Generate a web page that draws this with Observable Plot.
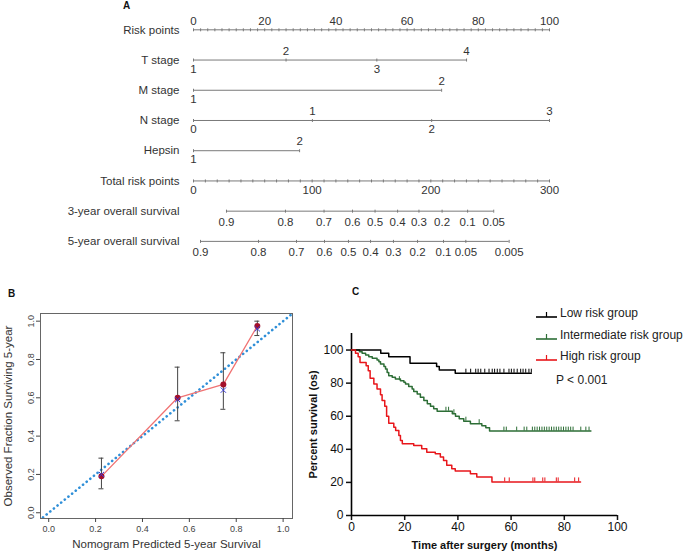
<!DOCTYPE html>
<html><head><meta charset="utf-8">
<script src="https://cdn.jsdelivr.net/npm/d3@7"></script>
<script src="https://cdn.jsdelivr.net/npm/@observablehq/plot@0.6"></script>
<style>
body{margin:0;background:#fff;font-family:"Liberation Sans",Arial,sans-serif;}
#root{position:relative;width:685px;height:560px;overflow:hidden;background:#fff;}
#root svg{position:absolute;overflow:visible;}
.plab{position:absolute;font-weight:bold;font-size:10px;color:#111;}
.leg{position:absolute;font-size:12px;color:#222;white-space:nowrap;line-height:14px;}
.leg svg{position:static !important;vertical-align:middle;margin-right:3px;}
</style></head><body><div id="root"></div>
<script>
// ---------- Panel A: nomogram ----------
const nomoRows = ["Risk points","T stage","M stage","N stage","Hepsin","Total risk points","3-year overall survival","5-year overall survival"];
const pointTickValues = d3.range(0, 101, 2);
const pointLabelValues = [0, 20, 40, 60, 80, 100];
const tStageLabels = ["1","2","3","4"];
const tStagePoints = [0, 26, 51.5, 76.7];
const mStageLabels = ["1","2"];
const mStagePoints = [0, 69.7];
const nStageLabels = ["0","1","2","3"];
const nStagePoints = [0, 33.4, 66.9, 100];
const hepsinLabels = ["1","2"];
const hepsinPoints = [0, 29.8];
const totalTickValues = d3.range(0, 301, 10);
const totalLabelValues = [0, 100, 200, 300];
const surv3Labels = ["0.9","0.8","0.7","0.6","0.5","0.4","0.3","0.2","0.1","0.05"];
const surv3Total = [27.8, 77.5, 110, 134, 153, 172, 190, 209.5, 231, 253];
const surv5Labels = ["0.9","0.8","0.7","0.6","0.5","0.4","0.3","0.2","0.1","0.05","0.005"];
const surv5Total = [5.9, 54.8, 86.8, 110.4, 130.6, 149.2, 168.5, 188.8, 210.7, 229.5, 266];

// ---------- Panel B: calibration ----------
const calPred  = [0.225, 0.55, 0.745, 0.89];
const calObs   = [0.19, 0.60, 0.67, 0.975];
const calLo    = [0.125, 0.48, 0.54, 0.925];
const calHi    = [0.285, 0.76, 0.835, 1.0];
const calIdeal = [0.20, 0.59, 0.64, 0.96];
const calTicks = [0, 0.2, 0.4, 0.6, 0.8, 1.0];
const diagEnds = [-0.04, 1.05];

// ---------- Panel C: Kaplan-Meier ----------
const kmGroups = ["Low risk group", "Intermediate risk group", "High risk group"];
const kmColors = ["#000000", "#2d6e36", "#e8161b"];
const lowT = [0, 11, 14, 22, 32, 33, 39, 67.6];
const lowS = [100, 98, 96, 92, 90, 88, 86, 86];
const lowCensor = [43, 44.8, 46.7, 47.6, 48.6, 50.1, 51.7, 52.9, 53.8, 54.8, 55.8, 57.3, 59.2, 60.1, 61.1, 62.3, 63.6, 64.5, 65.5, 66.7, 67.6];
const intT = [0, 3, 4, 5.3, 6.5, 7.8, 9.6, 10.3, 10.9, 12.2, 12.8, 13.4, 14, 15.3, 16.5, 18.4, 19.7, 20.3, 21.5, 22.8, 23.4, 24.7, 25.9, 27.2, 28.5, 29.7, 30.9, 32.2, 37.9, 39.1, 40.5, 42.2, 44.7, 49, 50.5, 51.9, 90];
const intS = [100, 99, 98, 97, 96, 95, 94, 93, 91.5, 90, 88.5, 86.5, 84.5, 83.5, 82.5, 81.5, 80.5, 79.5, 78, 76.5, 75, 73.5, 71.5, 69.5, 67.5, 66, 64.5, 63, 61.5, 60, 58.5, 57, 55.5, 54.3, 53, 51, 51];
const intCensorT = [18, 35.5, 36.5, 38.5, 43, 48, 57.3, 58.2, 62.1, 64.9, 65.9, 68, 68.9, 69.8, 70.7, 71.6, 72.5, 73.4, 74.3, 75.2, 76.1, 77, 77.9, 78.8, 79.7, 80.6, 81.5, 82.4, 83.3, 86.2, 88.1, 89.3];
const intCensorS = [81.5, 63, 63, 61.5, 57, 55.5, 51, 51, 51, 51, 51, 51, 51, 51, 51, 51, 51, 51, 51, 51, 51, 51, 51, 51, 51, 51, 51, 51, 51, 51, 51, 51];
const highT = [0, 1.5, 2.5, 3.2, 5.5, 6.3, 7, 8.4, 9.6, 10.9, 11.5, 12.5, 13.2, 14, 15.9, 16.6, 17.8, 18.4, 19.1, 23.4, 26.4, 28.3, 31.5, 33.4, 34.6, 35.8, 37.7, 39, 44.7, 47.1, 52.8, 86.1];
const highS = [100, 98, 96, 92.5, 90.5, 87.5, 83, 79.5, 76.5, 73, 69.5, 66, 60, 55.8, 53.4, 51.4, 48.4, 45.4, 43.4, 42.3, 40.4, 38.3, 37.3, 35.3, 33.3, 30.3, 28.3, 26.9, 25.3, 23.3, 20.3, 20.3];
const highCensor = [57.6, 59.3, 68.2, 68.9, 71.9, 72.7, 77, 77.7, 83.9, 85.4];

const FONT = '"Liberation Sans", Arial, sans-serif';
const root = document.getElementById("root");

// ---- build nomogram tables ----
const nLines = [], nTicks = [], nAbove = [], nBelow = [], nUnder = [];
function rowI(r){ return nomoRows.indexOf(r); }
function addLine(row, xs){ nLines.push({i: rowI(row), x1: d3.min(xs), x2: d3.max(xs)}); }
addLine("Risk points", pointTickValues);
pointTickValues.forEach(x => nTicks.push({i: rowI("Risk points"), x}));
pointLabelValues.forEach(x => nAbove.push({i: rowI("Risk points"), x, t: String(x)}));
[["T stage", tStagePoints, tStageLabels], ["M stage", mStagePoints, mStageLabels],
 ["N stage", nStagePoints, nStageLabels], ["Hepsin", hepsinPoints, hepsinLabels]].forEach(([row, xs, labs]) => {
  addLine(row, xs);
  xs.forEach((x, k) => {
    nTicks.push({i: rowI(row), x});
    (k % 2 === 0 ? nBelow : nAbove).push({i: rowI(row), x, t: labs[k]});
  });
});
addLine("Total risk points", totalTickValues.map(v => v / 3));
totalTickValues.forEach(v => nTicks.push({i: rowI("Total risk points"), x: v / 3}));
totalLabelValues.forEach(v => nBelow.push({i: rowI("Total risk points"), x: v / 3, t: String(v)}));
[["3-year overall survival", surv3Total, surv3Labels], ["5-year overall survival", surv5Total, surv5Labels]].forEach(([row, tot, labs]) => {
  addLine(row, tot.map(v => v / 3));
  tot.forEach((v, k) => {
    nTicks.push({i: rowI(row), x: v / 3});
    nUnder.push({i: rowI(row), x: v / 3, t: labs[k]});
  });
});

const plotA = Plot.plot({
  width: 685, height: 262, marginTop: 0, marginBottom: 0, marginLeft: 193, marginRight: 136,
  x: {domain: [0, 100], axis: null},
  y: {domain: [-0.5, 7.5], range: [14.2, 256], axis: null},
  style: {fontFamily: FONT, fontSize: "11px", background: "transparent", color: "#333"},
  marks: [
    Plot.ruleY(nLines, {y: "i", x1: "x1", x2: "x2", stroke: "#7a7a7a", strokeWidth: 1}),
    Plot.ruleX(nTicks, {x: "x", y1: "i", y2: "i", insetTop: -1, insetBottom: -2, stroke: "#7a7a7a", strokeWidth: 1}),
    Plot.text(nAbove, {x: "x", y: "i", text: "t", dy: -9, fontSize: 11.5, fill: "#333"}),
    Plot.text(nBelow, {x: "x", y: "i", text: "t", dy: 9, fontSize: 11.5, fill: "#333"}),
    Plot.text(nUnder, {x: "x", y: "i", text: "t", dy: 11, fontSize: 11.5, fill: "#333"}),
    Plot.text(nomoRows, {x: 0, y: (d, i) => i, text: d => d, textAnchor: "end", dx: -14, fontSize: 11.5, fill: "#333"})
  ]
});
plotA.style.left = "0px"; plotA.style.top = "0px";
root.appendChild(plotA);

// ---- Panel B ----
const cal = calPred.map((p, k) => ({pred: p, obs: calObs[k], lo: calLo[k], hi: calHi[k], ideal: calIdeal[k]}));
const plotB = Plot.plot({
  width: 300, height: 280, marginLeft: 40, marginRight: 8, marginTop: 33, marginBottom: 42,
  x: {domain: [-0.035, 1.04]},
  y: {domain: [-0.03, 1.04]},
  style: {fontFamily: FONT, fontSize: "9px", background: "transparent", color: "#333"},
  marks: [
    Plot.frame({stroke: "#666", strokeWidth: 1}),
    Plot.axisX({ticks: calTicks, tickFormat: d3.format(".1f"), tickSize: 4, tickPadding: 3, fontSize: 9, label: null, color: "#444"}),
    Plot.axisY({ticks: calTicks, tickFormat: d3.format(".1f"), tickSize: 4, tickPadding: 3, tickRotate: -90, fontSize: 9, label: null, color: "#444"}),
    Plot.line(diagEnds, {x: d => d, y: d => d, stroke: "#2f8fd8", strokeWidth: 2.6, strokeDasharray: "0.1 4.6", strokeLinecap: "round", clip: true}),
    Plot.line(cal, {x: "pred", y: "obs", stroke: "#f07272", strokeWidth: 1.3}),
    Plot.ruleX(cal, {x: "pred", y1: "lo", y2: "hi", stroke: "#444", strokeWidth: 1}),
    Plot.ruleY(cal, {y: "lo", x1: "pred", x2: "pred", insetLeft: -2.5, insetRight: -2.5, stroke: "#444"}),
    Plot.ruleY(cal, {y: "hi", x1: "pred", x2: "pred", insetLeft: -2.5, insetRight: -2.5, stroke: "#444"}),
    Plot.dot(cal, {x: "pred", y: "obs", r: 3, fill: "#a3102b"}),
    Plot.dot(cal, {x: "pred", y: "ideal", symbol: "times", r: 2.5, stroke: "#3b3bd6", strokeWidth: 1}),
    Plot.text(["Nomogram Predicted 5-year Survival"], {frameAnchor: "bottom", dy: 29, fontSize: 11.5, fill: "#333"}),
    Plot.text(["Observed Fraction Surviving 5-year"], {frameAnchor: "left", dx: -32, rotate: -90, textAnchor: "middle", fontSize: 11.5, fill: "#333"})
  ]
});
plotB.style.left = "0px"; plotB.style.top = "280px";
root.appendChild(plotB);

// ---- Panel C ----
const km = [];
const censor = [];
[[lowT, lowS], [intT, intS], [highT, highS]].forEach(([T, S], g) => {
  T.forEach((t, k) => km.push({group: kmGroups[g], t, s: S[k]}));
});
lowCensor.forEach(t => censor.push({group: kmGroups[0], t, s: 86}));
intCensorT.forEach((t, k) => censor.push({group: kmGroups[1], t, s: intCensorS[k]}));
highCensor.forEach(t => censor.push({group: kmGroups[2], t, s: 20.3}));
const drawOrder = [kmGroups[1], kmGroups[0], kmGroups[2]];
km.sort((a, b) => drawOrder.indexOf(a.group) - drawOrder.indexOf(b.group));

const plotC = Plot.plot({
  width: 385, height: 280, marginLeft: 51, marginRight: 68, marginTop: 53, marginBottom: 45,
  x: {domain: [0, 100]},
  y: {domain: [0, 110]},
  color: {domain: kmGroups, range: kmColors},
  style: {fontFamily: FONT, fontSize: "12px", background: "transparent", color: "#111"},
  marks: [
    Plot.axisX({ticks: [0, 20, 40, 60, 80, 100], tickSize: 5, tickPadding: 2, fontSize: 12, label: null, strokeWidth: 1.5, color: "#111"}),
    Plot.axisY({ticks: [0, 20, 40, 60, 80, 100], tickSize: 5, tickPadding: 3, fontSize: 12, label: null, strokeWidth: 1.5, color: "#111"}),
    Plot.ruleX([0], {stroke: "#000", strokeWidth: 1.6}),
    Plot.ruleY([0], {stroke: "#000", strokeWidth: 1.6}),
    Plot.line(km, {x: "t", y: "s", z: "group", stroke: "group", curve: "step-after", strokeWidth: 1.5}),
    Plot.ruleX(censor, {x: "t", y1: "s", y2: "s", insetTop: -4, stroke: "group", strokeWidth: 1}),
    Plot.text(["Time after surgery (months)"], {frameAnchor: "bottom", dy: 33, fontSize: 11, fontWeight: "bold", fill: "#111"}),
    Plot.text(["Percent survival (os)"], {frameAnchor: "left", dx: -38, rotate: -90, textAnchor: "middle", fontSize: 11, fontWeight: "bold", fill: "#111"})
  ]
});
plotC.style.left = "300px"; plotC.style.top = "280px";
root.appendChild(plotC);

// ---- panel letters ----
[["A", 123, 0], ["B", 8, 288], ["C", 352, 286]].forEach(([t, x, y]) => {
  const d = document.createElement("div");
  d.className = "plab"; d.textContent = t; d.style.left = x + "px"; d.style.top = y + "px";
  root.appendChild(d);
});

// ---- legend ----
kmGroups.forEach((g, k) => {
  const d = document.createElement("div");
  d.className = "leg";
  d.style.left = "536px"; d.style.top = (306 + k * 21.7) + "px";
  const c = kmColors[k];
  d.innerHTML = `<svg width="21" height="10"><line x1="0" y1="8" x2="21" y2="8" stroke="${c}" stroke-width="1.6"/><line x1="10.5" y1="8" x2="10.5" y2="3" stroke="${c}" stroke-width="1.2"/></svg>${g}`;
  root.appendChild(d);
});
const p = document.createElement("div");
p.className = "leg"; p.style.left = "556px"; p.style.top = "373px"; p.textContent = "P < 0.001";
root.appendChild(p);
</script></body></html>
